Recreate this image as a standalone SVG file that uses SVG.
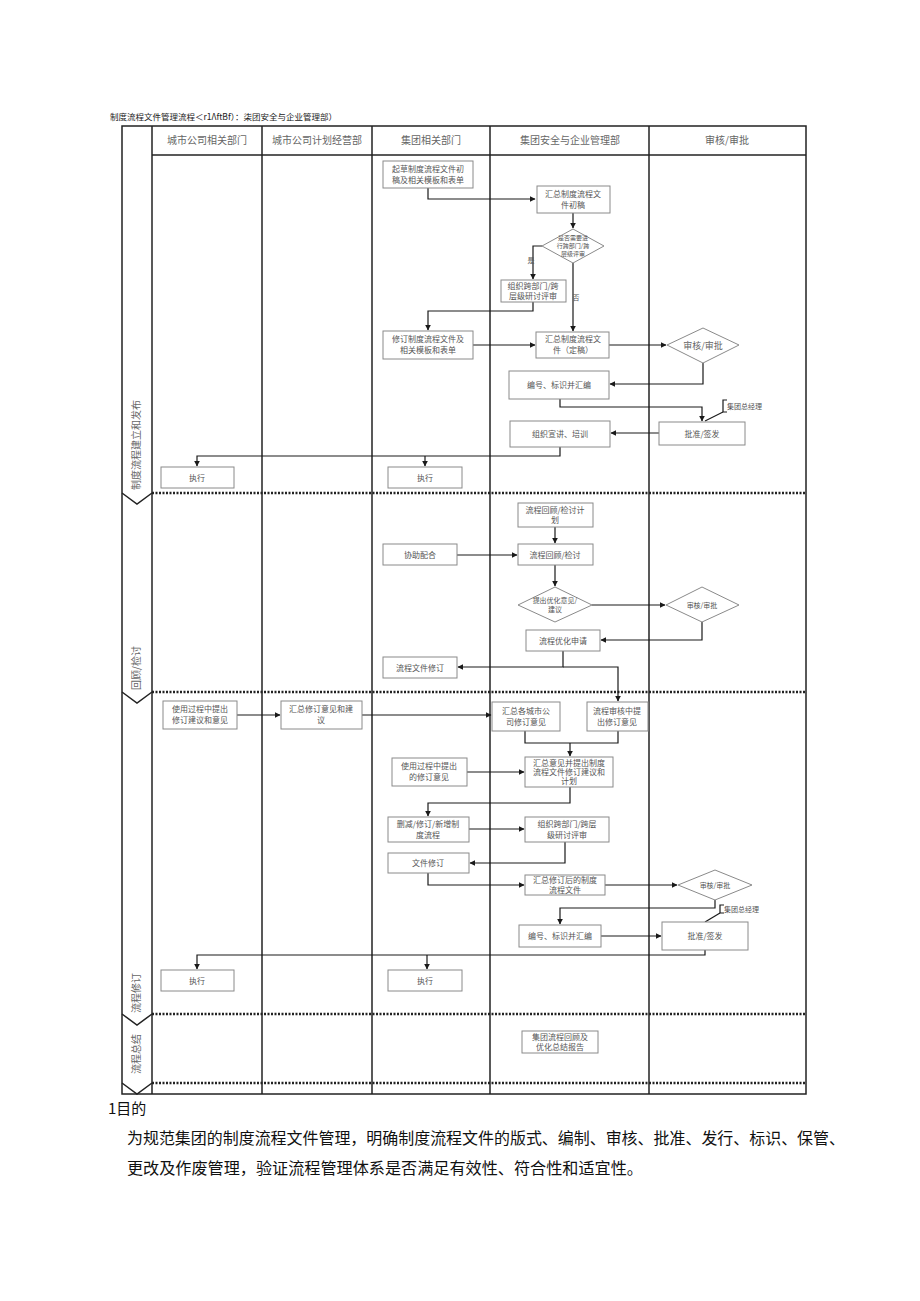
<svg xmlns="http://www.w3.org/2000/svg" width="920" height="1301" viewBox="0 0 920 1301">
<defs>
<marker id="ah" viewBox="0 0 10 10" refX="9" refY="5" markerWidth="6" markerHeight="6" orient="auto-start-reverse" markerUnits="userSpaceOnUse"><path d="M0,0 L10,5 L0,10 z" fill="#1a1a1a"/></marker>
<style>
text{font-family:"Noto Sans CJK SC","Liberation Serif",serif;}
.t{font-size:8px;fill:#555;text-anchor:middle;}
.ts{font-size:7px;fill:#555;text-anchor:middle;}
.tx{font-size:6px;fill:#555;text-anchor:middle;}
.h{font-size:10px;fill:#666;text-anchor:middle;}
.ph{font-size:10px;fill:#666;text-anchor:middle;}
.box{fill:#fff;stroke:#8a8a8a;stroke-width:1;}
.lane{stroke:#222;stroke-width:1.5;fill:none;}
.sep{stroke:#222;stroke-width:2.5;stroke-dasharray:2 1.5;fill:none;}
.c{stroke:#1a1a1a;stroke-width:1.2;fill:none;}
.ca{stroke:#1a1a1a;stroke-width:1.2;fill:none;marker-end:url(#ah);}
.body{font-size:16px;fill:#111;font-family:"Noto Sans CJK SC","Liberation Sans",sans-serif;}
</style>
</defs>
<rect width="920" height="1301" fill="#fff"/>
<text x="110" y="120" style="font-size:8.5px;fill:#222;font-family:'Noto Sans CJK SC','Liberation Sans',sans-serif;">制度流程文件管理流程＜r1ΛftBf）：柒团安全与企业管理部）</text>

<g id="frame">
<rect x="122" y="126" width="684" height="968" class="lane"/>
<line x1="152" y1="126" x2="152" y2="1094" class="lane"/>
<line x1="262" y1="126" x2="262" y2="1094" class="lane"/>
<line x1="372" y1="126" x2="372" y2="1094" class="lane"/>
<line x1="490" y1="126" x2="490" y2="1094" class="lane"/>
<line x1="649" y1="126" x2="649" y2="1094" class="lane"/>
<line x1="152" y1="155" x2="806" y2="155" class="lane"/>
<line x1="152" y1="493" x2="806" y2="493" class="sep"/>
<line x1="152" y1="692" x2="806" y2="692" class="sep"/>
<line x1="152" y1="1014" x2="806" y2="1014" class="sep"/>
<line x1="152" y1="1083" x2="806" y2="1083" class="sep"/>
<path d="M122,493 L137,504 L152,493" class="lane"/>
<path d="M122,692 L137,703 L152,692" class="lane"/>
<path d="M122,1014 L137,1025 L152,1014" class="lane"/>
<path d="M122,1083 L137,1094 L152,1083" class="lane"/>
<text class="h" x="207" y="144">城市公司相关部门</text>
<text class="h" x="317" y="144">城市公司计划经营部</text>
<text class="h" x="431" y="144">集团相关部门</text>
<text class="h" x="570" y="144">集团安全与企业管理部</text>
<text class="h" x="727" y="144">审核/审批</text>
<text class="ph" transform="translate(140,445) rotate(-90)">制度流程建立和发布</text>
<text class="ph" transform="translate(140,668) rotate(-90)">回顾/检讨</text>
<text class="ph" transform="translate(140,993) rotate(-90)">流程修订</text>
<text class="ph" transform="translate(140,1054) rotate(-90)">流程总结</text>
</g>

<g id="connectors">
<path d="M428,188 V199 H535" class="ca"/>
<path d="M573,213 V228" class="ca"/>
<path d="M542,246 H533 V279" class="ca"/>
<path d="M573,263 V331" class="ca"/>
<path d="M533,302 V311 H428 V330" class="ca"/>
<path d="M473,345 H535" class="ca"/>
<path d="M609,345 H666" class="ca"/>
<path d="M703,363 V384 H610" class="ca"/>
<path d="M560,399 V407 H702 V421" class="ca"/>
<path d="M659,433 H611" class="ca"/>
<path d="M560,447 V456 H197 V466" class="ca"/>
<path d="M425,456 V466" class="ca"/>
<path d="M723,412 L705,421" class="c"/>
<path d="M727,400 H723 V412 H727" class="c"/>
<path d="M555,527 V543" class="ca"/>
<path d="M457,555 H517" class="ca"/>
<path d="M555,565 V586" class="ca"/>
<path d="M592,605 H665" class="ca"/>
<path d="M702,622 V640 H601" class="ca"/>
<path d="M563,651 V667 H458" class="ca"/>
<path d="M563,667 H618 V701" class="ca"/>
<path d="M237,715 H280" class="ca"/>
<path d="M362,715 H491" class="ca"/>
<path d="M525,731 V743 H618 V731" class="c"/>
<path d="M570,743 V756" class="ca"/>
<path d="M467,772 H524" class="ca"/>
<path d="M570,787 V803 H428 V816" class="ca"/>
<path d="M469,829 H524" class="ca"/>
<path d="M565,842 V863 H470" class="ca"/>
<path d="M428,873 V885 H524" class="ca"/>
<path d="M605,885 H677" class="ca"/>
<path d="M715,900 V908 H560 V924" class="ca"/>
<path d="M601,936 H661" class="ca"/>
<path d="M705,950 V955 H197 V969" class="ca"/>
<path d="M427,955 V969" class="ca"/>
<path d="M720,913 L705,922" class="c"/>
<path d="M724,905 H720 V913 H724" class="c"/>
</g>

<g id="n1"><rect class="box" x="383" y="161" width="90" height="27"/><text class="t" x="428" y="172">起草制度流程文件初</text><text class="t" x="428" y="183">稿及相关模板和表单</text></g>
<g id="n2"><rect class="box" x="537" y="186" width="73" height="27"/><text class="t" x="573" y="197">汇总制度流程文</text><text class="t" x="573" y="208">件初稿</text></g>
<g id="n3"><polygon class="box" points="573,229 604,246 573,263 542,246"/><text class="tx" x="573" y="240">是否需要进</text><text class="tx" x="573" y="248">行跨部门/跨</text><text class="tx" x="573" y="256">层级评审</text></g>
<text class="ts" x="531" y="263">是</text>
<text class="ts" x="576" y="300">否</text>
<g id="n4"><rect class="box" x="501" y="280" width="65" height="22"/><text class="t" x="533" y="289">组织跨部门/跨</text><text class="t" x="533" y="299">层级研讨评审</text></g>
<g id="n5"><rect class="box" x="383" y="331" width="90" height="28"/><text class="t" x="428" y="342">修订制度流程文件及</text><text class="t" x="428" y="353">相关模板和表单</text></g>
<g id="n6"><rect class="box" x="536" y="332" width="73" height="26"/><text class="t" x="573" y="342">汇总制度流程文</text><text class="t" x="573" y="353">件（定稿）</text></g>
<g id="n7"><polygon class="box" points="703,328 739,345 703,363 667,345"/><text class="h" x="703" y="349" style="font-size:9px">审核/审批</text></g>
<g id="n8"><rect class="box" x="509" y="371" width="100" height="28"/><text class="t" x="559" y="388">编号、标识并汇编</text></g>
<g id="n9"><rect class="box" x="659" y="422" width="86" height="23"/><text class="t" x="702" y="437">批准/签发</text></g>
<text class="ts" x="727" y="409" style="text-anchor:start">集团总经理</text>
<g id="n10"><rect class="box" x="510" y="421" width="100" height="26"/><text class="t" x="560" y="437">组织宣讲、培训</text></g>
<g id="n11"><rect class="box" x="161" y="467" width="73" height="21"/><text class="t" x="197" y="481">执行</text></g>
<g id="n12"><rect class="box" x="388" y="467" width="74" height="21"/><text class="t" x="425" y="481">执行</text></g>

<g id="n13"><rect class="box" x="518" y="503" width="75" height="24"/><text class="t" x="555" y="513">流程回顾/检讨计</text><text class="t" x="555" y="523">划</text></g>
<g id="n14"><rect class="box" x="518" y="544" width="75" height="21"/><text class="t" x="555" y="558">流程回顾/检讨</text></g>
<g id="n15"><rect class="box" x="383" y="544" width="74" height="21"/><text class="t" x="420" y="558">协助配合</text></g>
<g id="n16"><polygon class="box" points="555,587 592,605 555,622 518,605"/><text class="ts" x="555" y="603">提出优化意见/</text><text class="ts" x="555" y="612">建议</text></g>
<g id="n17"><polygon class="box" points="702,587 739,605 702,622 666,605"/><text class="ts" x="702" y="608">审核/审批</text></g>
<g id="n18"><rect class="box" x="526" y="630" width="74" height="21"/><text class="t" x="563" y="644">流程优化申请</text></g>
<g id="n19"><rect class="box" x="383" y="657" width="74" height="21"/><text class="t" x="420" y="671">流程文件修订</text></g>

<g id="n20"><rect class="box" x="163" y="701" width="74" height="28"/><text class="t" x="200" y="712">使用过程中提出</text><text class="t" x="200" y="723">修订建议和意见</text></g>
<g id="n21"><rect class="box" x="281" y="701" width="81" height="28"/><text class="t" x="321" y="712">汇总修订意见和建</text><text class="t" x="321" y="723">议</text></g>
<g id="n22"><rect class="box" x="492" y="702" width="68" height="29"/><text class="t" x="526" y="714">汇总各城市公</text><text class="t" x="526" y="725">司修订意见</text></g>
<g id="n23"><rect class="box" x="587" y="702" width="61" height="29"/><text class="t" x="617" y="714">流程审核中提</text><text class="t" x="617" y="725">出修订意见</text></g>
<g id="n24"><rect class="box" x="525" y="757" width="88" height="30"/><text class="t" x="569" y="766">汇总意见并提出制度</text><text class="t" x="569" y="775">流程文件修订建议和</text><text class="t" x="569" y="784">计划</text></g>
<g id="n25"><rect class="box" x="392" y="758" width="75" height="28"/><text class="t" x="429" y="769">使用过程中提出</text><text class="t" x="429" y="780">的修订意见</text></g>
<g id="n26"><rect class="box" x="388" y="817" width="81" height="25"/><text class="t" x="428" y="827">删减/修订/新增制</text><text class="t" x="428" y="838">度流程</text></g>
<g id="n27"><rect class="box" x="525" y="817" width="84" height="25"/><text class="t" x="567" y="827">组织跨部门/跨层</text><text class="t" x="567" y="838">级研讨评审</text></g>
<g id="n28"><rect class="box" x="388" y="853" width="81" height="20"/><text class="t" x="428" y="866">文件修订</text></g>
<g id="n29"><rect class="box" x="525" y="875" width="80" height="20"/><text class="t" x="565" y="883">汇总修订后的制度</text><text class="t" x="565" y="893">流程文件</text></g>
<g id="n30"><polygon class="box" points="715,870 752,885 715,900 678,885"/><text class="ts" x="715" y="888">审核/审批</text></g>
<g id="n31"><rect class="box" x="519" y="925" width="82" height="22"/><text class="t" x="560" y="939">编号、标识并汇编</text></g>
<g id="n32"><rect class="box" x="662" y="922" width="86" height="28"/><text class="t" x="705" y="939">批准/签发</text></g>
<text class="ts" x="724" y="912" style="text-anchor:start">集团总经理</text>
<g id="n33"><rect class="box" x="161" y="970" width="73" height="21"/><text class="t" x="197" y="984">执行</text></g>
<g id="n34"><rect class="box" x="388" y="970" width="74" height="21"/><text class="t" x="425" y="984">执行</text></g>

<g id="n35"><rect class="box" x="522" y="1031" width="76" height="22"/><text class="t" x="560" y="1040">集团流程回顾及</text><text class="t" x="560" y="1050">优化总结报告</text></g>

<g id="bodytext">
<text class="body" x="108" y="1114" style="font-size:15px">1目的</text>
<text class="body" x="127" y="1144" textLength="718" lengthAdjust="spacingAndGlyphs">为规范集团的制度流程文件管理，明确制度流程文件的版式、编制、审核、批准、发行、标识、保管、</text>
<text class="body" x="127" y="1174" textLength="516" lengthAdjust="spacingAndGlyphs">更改及作废管理，验证流程管理体系是否满足有效性、符合性和适宜性。</text>
</g>
</svg>
